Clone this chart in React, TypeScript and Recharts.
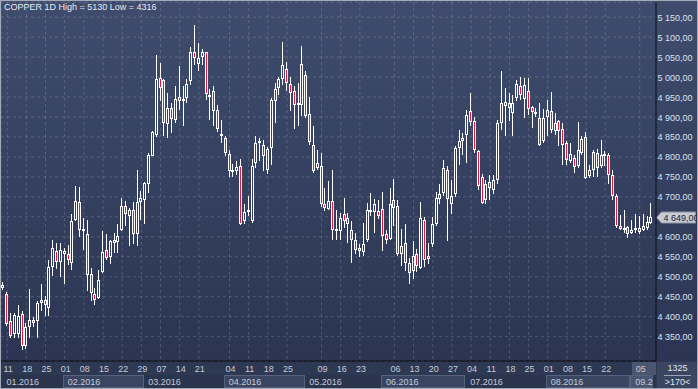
import { ComposedChart, Bar, XAxis, YAxis, CartesianGrid, ReferenceLine } from 'recharts';

// trading days, 2016 (MM-DD)
const year = '2016';
const dates = [
    '01-08', '01-11', '01-12', '01-13', '01-14', '01-15', '01-18', '01-19', '01-20', '01-21', '01-22', '01-25', '01-26', '01-27', '01-28', '01-29',
    '02-01', '02-02', '02-03', '02-04', '02-05', '02-08', '02-09', '02-10', '02-11', '02-12', '02-15', '02-16', '02-17', '02-18', '02-19',
    '02-22', '02-23', '02-24', '02-25', '02-26', '02-29',
    '03-01', '03-02', '03-03', '03-04', '03-07', '03-08', '03-09', '03-10', '03-11', '03-14', '03-15', '03-16', '03-17', '03-18',
    '03-21', '03-22', '03-23', '03-24', '03-29', '03-30', '03-31',
    '04-01', '04-04', '04-05', '04-06', '04-07', '04-08', '04-11', '04-12', '04-13', '04-14', '04-15', '04-18', '04-19', '04-20', '04-21', '04-22',
    '04-25', '04-26', '04-27', '04-28', '04-29',
    '05-03', '05-04', '05-05', '05-06', '05-09', '05-10', '05-11', '05-12', '05-13', '05-16', '05-17', '05-18', '05-19', '05-20',
    '05-23', '05-24', '05-25', '05-26', '05-27', '05-31',
    '06-01', '06-02', '06-03', '06-06', '06-07', '06-08', '06-09', '06-10', '06-13', '06-14', '06-15', '06-16', '06-17',
    '06-20', '06-21', '06-22', '06-23', '06-24', '06-27', '06-28', '06-29', '06-30',
    '07-01', '07-04', '07-05', '07-06', '07-07', '07-08', '07-11', '07-12', '07-13', '07-14', '07-15', '07-18', '07-19', '07-20', '07-21', '07-22',
    '07-25', '07-26', '07-27', '07-28', '07-29',
    '08-01', '08-02', '08-03', '08-04', '08-05', '08-08', '08-09', '08-10', '08-11', '08-12', '08-15', '08-16', '08-17', '08-18', '08-19',
    '08-22', '08-23', '08-24', '08-25', '08-26', '08-30', '08-31',
    '09-01', '09-02', '09-05', '09-06', '09-07', '09-08',
];

const opens = [
    4472, 4457, 4389, 4356, 4356, 4407, 4326, 4374, 4391, 4389, 4433, 4441, 4422, 4525, 4564, 4537, 4558, 4556, 4535, 4642,
    4687, 4616, 4608, 4508, 4458, 4446, 4512, 4566, 4550, 4585, 4586, 4616, 4678, 4652, 4668, 4608, 4687, 4693, 4731, 4803,
    4855, 4997, 4993, 4883, 4922, 4892, 4941, 4943, 4947, 4989, 5062, 5032, 5050, 5062, 4950, 4966, 4918, 4858, 4848, 4808,
    4764, 4766, 4778, 4639, 4664, 4639, 4785, 4837, 4831, 4768, 4822, 4939, 4972, 4995, 5020, 4982, 4964, 4935, 4929, 5006,
    4908, 4831, 4772, 4777, 4683, 4670, 4689, 4617, 4614, 4658, 4648, 4616, 4591, 4571, 4562, 4593, 4662, 4662, 4664, 4670,
    4606, 4595, 4693, 4677, 4558, 4585, 4535, 4514, 4556, 4523, 4641, 4553, 4581, 4631, 4695, 4710, 4768, 4681, 4706, 4822,
    4839, 4856, 4914, 4889, 4814, 4750, 4693, 4738, 4718, 4743, 4885, 4927, 4935, 4911, 4947, 4978, 4946, 4964, 4924, 4912,
    4897, 4839, 4900, 4914, 4866, 4889, 4869, 4834, 4789, 4797, 4777, 4810, 4849, 4752, 4768, 4811, 4777, 4802, 4806, 4756,
    4702, 4627, 4623, 4625, 4610, 4617, 4623, 4617, 4623, 4635,
];
const highs = [
    4488, 4461, 4410, 4410, 4428, 4414, 4385, 4470, 4400, 4438, 4481, 4452, 4543, 4593, 4584, 4584, 4573, 4580, 4656, 4727,
    4725, 4648, 4643, 4522, 4472, 4518, 4614, 4606, 4593, 4610, 4631, 4697, 4689, 4672, 4687, 4768, 4714, 4737, 4810, 4866,
    5056, 5035, 4995, 4960, 4935, 4977, 5028, 4977, 4996, 5075, 5130, 5085, 5070, 5064, 4970, 4977, 4931, 4893, 4852, 4818,
    4783, 4790, 4795, 4681, 4701, 4795, 4852, 4847, 4843, 4826, 4947, 4985, 5001, 5089, 5039, 5001, 4977, 4985, 5077, 5014,
    4950, 4877, 4818, 4810, 4723, 4739, 4768, 4668, 4660, 4698, 4660, 4639, 4610, 4583, 4635, 4685, 4710, 4695, 4693, 4712,
    4618, 4722, 4745, 4693, 4620, 4631, 4548, 4589, 4570, 4687, 4650, 4585, 4650, 4712, 4731, 4793, 4777, 4743, 4827, 4868,
    4860, 4918, 4960, 4900, 4818, 4758, 4743, 4756, 4756, 4893, 5014, 4973, 4960, 4956, 4993, 5001, 4997, 4997, 4927, 4922,
    4935, 4920, 4943, 4962, 4910, 4893, 4885, 4839, 4835, 4806, 4887, 4852, 4862, 4781, 4818, 4820, 4843, 4814, 4810, 4768,
    4706, 4654, 4666, 4628, 4643, 4656, 4652, 4656, 4652, 4685,
];
const lows = [
    4466, 4377, 4346, 4347, 4347, 4316, 4320, 4347, 4375, 4347, 4414, 4401, 4401, 4502, 4520, 4500, 4482, 4530, 4517, 4640,
    4600, 4567, 4464, 4439, 4428, 4444, 4510, 4543, 4533, 4560, 4560, 4614, 4627, 4577, 4581, 4577, 4643, 4633, 4710, 4802,
    4850, 4939, 4853, 4847, 4861, 4885, 4918, 4878, 4934, 4981, 5031, 5014, 5030, 4943, 4893, 4877, 4863, 4835, 4802, 4751,
    4751, 4756, 4629, 4631, 4652, 4635, 4772, 4790, 4764, 4757, 4781, 4885, 4956, 4981, 4964, 4914, 4870, 4877, 4902, 4898,
    4831, 4760, 4768, 4675, 4664, 4668, 4593, 4593, 4593, 4623, 4585, 4535, 4556, 4550, 4552, 4588, 4652, 4610, 4644, 4564,
    4581, 4591, 4627, 4552, 4527, 4514, 4481, 4494, 4512, 4520, 4525, 4531, 4575, 4627, 4681, 4702, 4589, 4656, 4700, 4781,
    4806, 4785, 4877, 4810, 4718, 4681, 4681, 4693, 4706, 4731, 4868, 4852, 4890, 4853, 4939, 4943, 4897, 4906, 4872, 4901,
    4827, 4835, 4852, 4860, 4856, 4827, 4781, 4781, 4785, 4760, 4772, 4806, 4745, 4748, 4750, 4750, 4772, 4777, 4731, 4693,
    4623, 4616, 4610, 4598, 4606, 4610, 4606, 4614, 4618, 4631,
];
const closes = [
    4480, 4382, 4351, 4404, 4401, 4326, 4374, 4391, 4383, 4433, 4441, 4429, 4524, 4571, 4537, 4568, 4564, 4542, 4639, 4689,
    4616, 4619, 4504, 4460, 4443, 4491, 4562, 4546, 4590, 4591, 4602, 4678, 4657, 4666, 4606, 4687, 4698, 4735, 4806, 4863,
    4995, 4972, 4885, 4922, 4895, 4946, 4950, 4946, 4982, 5064, 5047, 5047, 5062, 4958, 4956, 4916, 4870, 4852, 4810, 4764,
    4768, 4776, 4633, 4661, 4668, 4778, 4835, 4841, 4802, 4820, 4943, 4970, 4995, 5031, 4985, 4961, 4931, 4929, 5033, 4902,
    4837, 4764, 4785, 4681, 4672, 4689, 4618, 4620, 4648, 4639, 4633, 4593, 4568, 4564, 4582, 4668, 4666, 4683, 4652, 4603,
    4593, 4681, 4672, 4556, 4578, 4535, 4510, 4552, 4527, 4648, 4541, 4545, 4633, 4697, 4708, 4773, 4695, 4703, 4822, 4839,
    4847, 4906, 4887, 4818, 4727, 4685, 4731, 4723, 4743, 4884, 4935, 4938, 4922, 4936, 4983, 4956, 4979, 4920, 4912, 4908,
    4829, 4897, 4917, 4867, 4885, 4866, 4831, 4792, 4808, 4775, 4818, 4845, 4748, 4768, 4812, 4772, 4806, 4808, 4756, 4702,
    4627, 4620, 4617, 4606, 4616, 4623, 4612, 4627, 4637, 4649,
];

// Mondays that carry a label on the time axis
const dayTicks = [
    '01-11', '01-18', '01-25', '02-01', '02-08', '02-15', '02-22', '02-29', '03-07', '03-14', '03-21',
    '04-04', '04-11', '04-18', '04-25', '05-09', '05-16', '05-23', '06-06', '06-13', '06-20', '06-27',
    '07-04', '07-11', '07-18', '07-25', '08-01', '08-08', '08-15', '08-22', '09-05',
];
// first trading day of each month
const monthTicks = ['01-08', '02-01', '03-01', '04-01', '05-03', '06-01', '07-01', '08-01', '09-01'];
const priceTicks = [4350, 4400, 4450, 4500, 4550, 4600, 4650, 4700, 4750, 4800, 4850, 4900, 4950, 5000, 5050, 5100, 5150];

const lastClose = closes[closes.length - 1];
const chartData = dates.map((d, i) => ({
    date: d,
    open: opens[i],
    high: highs[i],
    low: lows[i],
    close: closes[i],
    range: [lows[i], highs[i]],
}));

const FONT = '"Liberation Sans", Arial, sans-serif';
const RED = '#e3163c';
const PLOT_RIGHT = 656;

const fmtPrice = (v: number) => `${Math.floor(v / 1000)} ${String(Math.round(v) % 1000).padStart(3, '0')},00`;

function Candle(props: any) {
    const { x, y, width, height, payload } = props;
    if (!payload || x == null || y == null) return null;
    const { open, close, high, low } = payload;
    const top = Math.min(y, y + height);
    const h = Math.abs(height);
    const span = high - low;
    const at = (v: number) => (span > 0 ? top + ((high - v) / span) * h : top);
    const cx = Math.floor(x + width / 2) + 0.5;
    const yHigh = Math.round(top);
    const yLow = Math.round(top + h);
    const b1 = Math.round(at(Math.max(open, close)));
    let b2 = Math.round(at(Math.min(open, close)));
    if (b2 - b1 < 2) b2 = b1 + 2;
    const up = close >= open;
    return (
        <g>
            {b1 > yHigh && <line x1={cx} x2={cx} y1={yHigh} y2={b1} stroke="#ffffff" />}
            {yLow > b2 && <line x1={cx} x2={cx} y1={b2} y2={yLow} stroke="#ffffff" />}
            <rect x={cx - 1} y={b1 + 0.5} width={2} height={b2 - b1 - 1} fill={up ? 'none' : RED} stroke="#ffffff" />
        </g>
    );
}

function PriceTick(props: any) {
    const { y, payload } = props;
    if (Math.abs(payload.value - lastClose) < 25) return null;
    return (
        <text x={PLOT_RIGHT + 1.5} y={y + 3.5} fontSize={9} fontFamily={FONT} fill="#dbe2ee">
            {fmtPrice(payload.value)}
        </text>
    );
}

function DayTick(props: any) {
    const { x, payload } = props;
    return (
        <text x={x + 1} y={372} textAnchor="middle" fontSize={9} fontFamily={FONT} fill="#c3cbda">
            {String(payload.value).slice(3)}
        </text>
    );
}

function MonthTick(props: any) {
    const { x, payload, index } = props;
    const key = String(payload.value).slice(0, 2);
    const count = dates.filter((d) => d.slice(0, 2) === key).length;
    const w = props.width && props.width > 400 && props.width < 700 ? props.width : 655;
    const band = (w - 3.2) / dates.length;
    const left = x - band / 2;
    const last = index === monthTicks.length - 1;
    const light = index % 2 === 1 || last;
    const boxW = Math.min(Math.round(count * band), PLOT_RIGHT - Math.round(left)) - 1;
    // the last month label is cut at the edge of the plot, as in the terminal
    let label = `${key}.${year}`;
    const room = PLOT_RIGHT - 3 - (left + 5);
    if (room < 33) label = label.slice(0, Math.max(1, Math.floor(room / 4.4)));
    return (
        <g>
            {light && (
                <rect
                    x={Math.round(left) + 0.5}
                    y={375.5}
                    width={boxW}
                    height={12}
                    fill={last ? '#4a5570' : '#3a4661'}
                    stroke="#56627d"
                />
            )}
            <text x={left + 5} y={385} fontSize={9} fontFamily={FONT} fill="#c3cbda">
                {label}
            </text>
        </g>
    );
}

function PriceTag(props: any) {
    const vb = props.viewBox;
    if (!vb) return null;
    const y = Math.round(vb.y) + 0.5;
    const x0 = PLOT_RIGHT + 0.5;
    return (
        <g>
            <path
                d={`M${x0} ${y} L${x0 + 5} ${y - 5.5} H${x0 + 39} V${y + 5.5} H${x0 + 5} Z`}
                fill="#c7cbd3"
                stroke="#8e95a3"
            />
            <text x={x0 + 7} y={y + 3.5} fontSize={9} fontFamily={FONT} fill="#1c2231">
                {fmtPrice(lastClose)}
            </text>
        </g>
    );
}

export default function App() {
    return (
        <div
            style={{
                position: 'absolute',
                left: 0,
                top: 0,
                width: 698,
                height: 389,
                overflow: 'hidden',
                fontFamily: FONT,
                background: 'linear-gradient(to bottom, #3f4c6d 0px, #2b3553 361px, #2d3852 361px, #2d3852 389px)',
            }}
        >
            <div style={{ position: 'absolute', left: 0, top: 375, width: 656, height: 14, background: '#2a344d' }} />
            <div style={{ position: 'absolute', left: 632, top: 362, width: 24, height: 13, background: '#4a5570' }} />
            <ComposedChart width={698} height={389} data={chartData} margin={{ top: 2, right: 0, bottom: 0, left: 1 }}>
                <CartesianGrid stroke="#ffffff" strokeOpacity={0.17} strokeDasharray="3 3" />
                <XAxis
                    dataKey="date"
                    ticks={dayTicks}
                    interval={0}
                    height={14}
                    padding={{ left: 0.4, right: 2.8 }}
                    axisLine={{ stroke: '#05070c' }}
                    tickLine={false}
                    tickSize={0}
                    tick={<DayTick />}
                />
                <XAxis
                    xAxisId="m"
                    dataKey="date"
                    ticks={monthTicks}
                    interval={0}
                    height={14}
                    padding={{ left: 0.4, right: 2.8 }}
                    axisLine={false}
                    tickLine={false}
                    tickSize={0}
                    tick={<MonthTick />}
                />
                <YAxis
                    orientation="right"
                    domain={[4289, 5188]}
                    ticks={priceTicks}
                    interval={0}
                    allowDataOverflow
                    width={42}
                    axisLine={{ stroke: '#05070c' }}
                    tickLine={false}
                    tick={<PriceTick />}
                />
                <Bar dataKey="range" barSize={3} shape={<Candle />} isAnimationActive={false} />
                <ReferenceLine y={lastClose} stroke="none" label={<PriceTag />} />
            </ComposedChart>
            <div
                style={{
                    position: 'absolute',
                    left: 4,
                    top: 2,
                    fontSize: 9,
                    color: '#e6eaf2',
                    whiteSpace: 'nowrap',
                }}
            >
                COPPER 1D High = 5130 Low = 4316
            </div>
            <div
                style={{
                    position: 'absolute',
                    left: 657,
                    top: 362,
                    width: 41,
                    height: 27,
                    background: '#3a4560',
                }}
            />
            <div style={{ position: 'absolute', left: 657, top: 363, width: 41, textAlign: 'center', fontSize: 9, lineHeight: '10px', color: '#dfe4ee' }}>
                1325
            </div>
            <div style={{ position: 'absolute', left: 664, top: 375, width: 27, height: 1, background: '#9aa3b6' }} />
            <div style={{ position: 'absolute', left: 657, top: 377, width: 41, textAlign: 'center', fontSize: 9, lineHeight: '10px', color: '#dfe4ee' }}>
                &gt;170&lt;
            </div>
            <div
                style={{
                    position: 'absolute',
                    left: 0,
                    top: 0,
                    width: 698,
                    height: 389,
                    boxSizing: 'border-box',
                    border: '1px solid #a3abbb',
                    pointerEvents: 'none',
                }}
            />
        </div>
    );
}
